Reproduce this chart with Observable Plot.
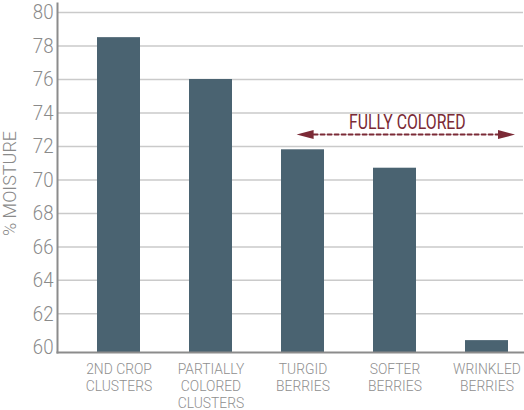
<!DOCTYPE html>
<html>
<head>
<meta charset="utf-8">
<script src="https://cdn.jsdelivr.net/npm/d3@7"></script>
<script src="https://cdn.jsdelivr.net/npm/@observablehq/plot@0.6"></script>
<style>
  body { margin: 0; background: #ffffff; }
</style>
</head>
<body>
<div id="chart"></div>
<script>
// ---- data ----
const categories = [
  "2ND CROP\nCLUSTERS",
  "PARTIALLY\nCOLORED\nCLUSTERS",
  "TURGID\nBERRIES",
  "SOFTER\nBERRIES",
  "WRINKLED\nBERRIES"
];
const moisture = [78.5, 76.0, 71.8, 70.7, 60.4];
const yTicks = [60, 62, 64, 66, 68, 70, 72, 74, 76, 78, 80];
const gridTicks = [62, 64, 66, 68, 70, 72, 74, 76, 78, 80];
const yDomain = [59.69, 80.54];
const yLabel = "% MOISTURE";
const spanLabel = "FULLY COLORED";
const spanFrom = categories[2];
const spanTo = categories[4];
const spanLabelAt = categories[3];
const spanLabelY = 73.43;
const spanArrowY = 72.71;

// ---- styles ----
const barColor = "#4a6371";
const axisColor = "#8c8c8c";
const tickColor = "#8a8a8a";
const labelColor = "#8f8f8f";
const gridColor = "#cacaca";
const accent = "#7b2a36";

const data = categories.map((c, i) => ({category: c, value: moisture[i]}));

const headLeft = {draw(ctx) { ctx.moveTo(0, 0); ctx.lineTo(17, -4.5); ctx.lineTo(17, 4.5); ctx.closePath(); }};
const headRight = {draw(ctx) { ctx.moveTo(0, 0); ctx.lineTo(-17, -4.5); ctx.lineTo(-17, 4.5); ctx.closePath(); }};

const chart = Plot.plot({
  width: 524,
  height: 410,
  marginLeft: 57,
  marginRight: 1,
  marginTop: 3,
  marginBottom: 58,
  style: {fontFamily: "Roboto, 'Liberation Sans', sans-serif", background: "#ffffff"},
  x: {domain: categories, paddingInner: 0.53, paddingOuter: 0.29, align: 0.73},
  y: {domain: yDomain},
  marks: [
    Plot.gridY(gridTicks, {stroke: gridColor, strokeWidth: 1.5, strokeOpacity: 1}),
    Plot.barY(data, {x: "category", y1: yDomain[0], y2: "value", fill: barColor}),
    Plot.frame({anchor: "left", stroke: axisColor, strokeWidth: 2}),
    Plot.frame({anchor: "bottom", stroke: axisColor, strokeWidth: 2}),
    Plot.axisY({ticks: yTicks, tickSize: 0, tickPadding: 4, fontSize: 21, fontWeight: 300, color: tickColor, label: null}),
    Plot.axisX({tickSize: 0, tickPadding: 9, fontSize: 14.6, fontWeight: 300, lineHeight: 1.18, color: labelColor, label: null}),
    Plot.text([yLabel], {text: d => d, frameAnchor: "left", textAnchor: "middle", rotate: -90, dx: -47.7, dy: 5.5, fontSize: 18, fontWeight: 300, fill: tickColor}),
    Plot.arrow([{x1: spanFrom, x2: spanTo, y: spanArrowY}], {x1: "x1", x2: "x2", y1: "y", y2: "y", headLength: 0, insetStart: 10.6, insetEnd: -11.1, stroke: accent, strokeWidth: 2, strokeDasharray: "4,3"}),
    Plot.dot([{x: spanFrom, y: spanArrowY}], {x: "x", y: "y", symbol: headLeft, fill: accent, stroke: "none", dx: -6.4}),
    Plot.dot([{x: spanTo, y: spanArrowY}], {x: "x", y: "y", symbol: headRight, fill: accent, stroke: "none", dx: 28}),
    Plot.text([{x: spanLabelAt, y: spanLabelY, t: spanLabel}], {x: "x", y: "y", text: "t", fill: accent, fontSize: 19.5, dx: 12.4})
  ]
});

// condensed look: horizontally compress text per font size
const condenseBy = {"21": 0.89, "14.6": 0.95, "19.5": 0.81};
chart.querySelectorAll("text").forEach(t => {
  const holder = t.closest("[font-size]");
  if (!holder) return;
  const k = condenseBy[holder.getAttribute("font-size")];
  if (!k) return;
  const x = +(t.getAttribute("x") || 0);
  const tr = t.getAttribute("transform") || "";
  t.setAttribute("transform", `${tr} translate(${x},0) scale(${k},1) translate(${-x},0)`);
});

document.getElementById("chart").appendChild(chart);
</script>
</body>
</html>
